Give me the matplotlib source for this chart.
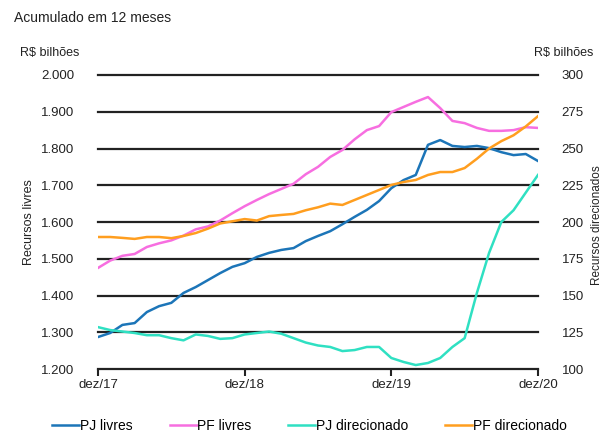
import numpy as np
from matplotlib import pyplot as plt

plt.rcParams['font.family'] = ['Liberation Sans', 'DejaVu Sans']

# Monthly values, dez/17 .. dez/20 (R$ bilhões, accumulated 12 months)
months = np.arange(37)
pj_livres = [1287, 1298, 1320, 1325, 1355, 1371, 1380, 1407, 1423, 1442,
             1461, 1478, 1488, 1505, 1516, 1524, 1529, 1548, 1562, 1575,
             1594, 1614, 1633, 1657, 1692, 1714, 1728, 1810, 1823, 1807,
             1804, 1807, 1801, 1790, 1782, 1785, 1766]
pf_livres = [1475, 1495, 1508, 1513, 1532, 1542, 1550, 1563, 1580, 1588,
             1604, 1624, 1643, 1660, 1676, 1690, 1704, 1730, 1750, 1777,
             1796, 1825, 1850, 1861, 1899, 1913, 1927, 1940, 1910, 1875,
             1869, 1856, 1848, 1848, 1850, 1858, 1856]
pj_direcionado = [128.5, 126.5, 125.5, 124.5, 123.0, 123.0, 121.0, 119.5, 123.5, 122.5,
                  120.5, 121.0, 123.5, 124.5, 125.5, 124.0, 121.0, 118.0, 116.0, 115.0,
                  112.2, 112.9, 115.0, 115.0, 107.5, 104.8, 102.7, 104.1, 107.5, 115.0,
                  121.0, 151.7, 179.0, 200.0, 208.0, 220.0, 232.0]
pf_direcionado = [189.8, 189.8, 189.2, 188.5, 189.8, 189.8, 189.0, 190.5, 192.5, 195.5,
                  199.0, 200.5, 202.0, 201.0, 204.0, 204.8, 205.5, 208.0, 210.0, 212.5,
                  211.6, 215.0, 218.4, 221.8, 225.2, 227.2, 228.6, 232.0, 234.0, 234.0,
                  236.7, 243.0, 250.0, 255.0, 259.0, 265.0, 272.0]

x_ticks = [0, 12, 24, 36]
x_labels = ["dez/17", "dez/18", "dez/19", "dez/20"]
left_ticks = np.arange(1200, 2001, 100)
right_ticks = np.arange(100, 301, 25)

c_pj_l = '#1c75b8'
c_pf_l = '#f76ee0'
c_pj_d = '#2fe0c2'
c_pf_d = '#ff9e1f'

fig = plt.figure(figsize=(6.07, 4.32), dpi=100)
ax = fig.add_axes([0.1614, 0.1458, 0.7249, 0.6806])
ax2 = ax.twinx()

ax.set_xlim(0, 36)
ax.set_ylim(1200, 2000)
ax2.set_ylim(100, 300)

# horizontal grid, also at the limits (not clipped)
for v in left_ticks:
    ax.axhline(v, color='#222222', lw=1.6, zorder=1, clip_on=False)

l1, = ax.plot(months, pj_livres, color=c_pj_l, lw=1.8, label="PJ livres", zorder=3)
l2, = ax.plot(months, pf_livres, color=c_pf_l, lw=1.8, label="PF livres", zorder=3)
l3, = ax2.plot(months, pj_direcionado, color=c_pj_d, lw=1.8, label="PJ direcionado")
l4, = ax2.plot(months, pf_direcionado, color=c_pf_d, lw=1.8, label="PF direcionado")

for a in (ax, ax2):
    for s in ['top', 'left', 'right', 'bottom']:
        a.spines[s].set_visible(False)

ax.set_xticks(x_ticks)
ax.set_xticklabels(x_labels, fontsize=9.5, color='#222222')
ax.tick_params(axis='x', length=5, width=1.5, color='#222222', direction='out', pad=2)

ax.set_yticks(left_ticks)
ax.set_yticklabels([f"{v:,}".replace(',', '.') for v in left_ticks], fontsize=9.5, color='#222222')
ax.tick_params(axis='y', length=0, pad=17)

ax2.set_yticks(right_ticks)
ax2.set_yticklabels([str(v) for v in right_ticks], fontsize=9.5, color='#222222')
ax2.tick_params(axis='y', length=0, pad=17)

fig.text(0.023, 0.958, "Acumulado em 12 meses", fontsize=10, color='#222222', va='center')
fig.text(0.033, 0.878, "R$ bilhões", fontsize=9, color='#222222', va='center')
fig.text(0.88, 0.878, "R$ bilhões", fontsize=9, color='#222222', va='center')
fig.text(0.047, 0.485, "Recursos livres", fontsize=9, color='#222222',
         rotation=90, ha='center', va='center')
fig.text(0.984, 0.48, "Recursos direcionados", fontsize=8.5, color='#222222',
         rotation=90, ha='center', va='center', fontstretch='condensed')

fig.legend([l1, l2, l3, l4], [l.get_label() for l in [l1, l2, l3, l4]],
           loc='center', bbox_to_anchor=(0.51, 0.014), ncol=4, frameon=False,
           fontsize=10, handlelength=1.95, handletextpad=0.05, columnspacing=2.65,
           borderpad=0.0)

fig.savefig("out.png", dpi=100)
